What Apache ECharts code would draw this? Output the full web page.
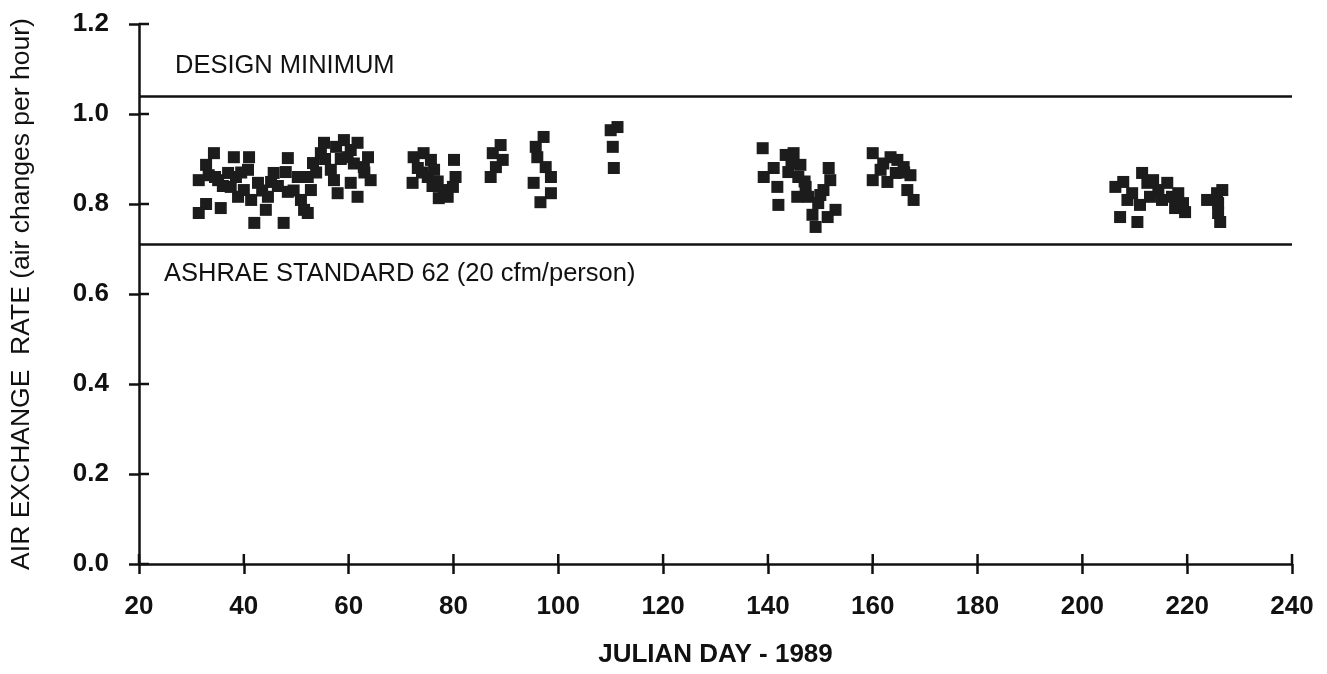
<!DOCTYPE html>
<html><head><meta charset="utf-8">
<script src="https://cdn.jsdelivr.net/npm/echarts@6/dist/echarts.min.js"></script>
<style>html,body{margin:0;padding:0;background:#fff}#c{width:1327px;height:674px}</style>
</head><body><div id="c"></div>
<script>
const xTicks = [20, 40, 60, 80, 100, 120, 140, 160, 180, 200, 220, 240];
const yTicks = [0.0, 0.2, 0.4, 0.6, 0.8, 1.0, 1.2];
const designMinimum = 1.045;
const ashraeStandard = 0.712;
const days = [
  31.4,32.8,31.4,32.8,34.3,33.3,35.1,35.6,37,38.1,37.5,38.9,41,40.8,40,41.4,42,42.7,44.2,44.6,45.7,45.2,47.6,48.4,48,48.4,50.3,51.5,50.9,52.2,52.8,52.2,53.2,54.7,55.3,56.6,57.2,57.9,57.6,59.1,59.8,60.4,61.7,60.4,61.7,62.9,63.7,64.2,
  34.5,36,39.5,43.5,46.5,49.5,55.5,58.5,61,63,38.5,53.8,
  72.4,72.2,73.2,74.3,75.7,75.1,76.3,77.2,78.2,80.1,80.4,79.9,78.9,74,77,76,
  87.5,89,89.4,87.1,88.1,
  97.2,95.7,96,97.6,98.6,95.3,98.6,96.6,
  110,111.3,110.4,110.6,
  139,139.2,141.1,141.8,142,143.4,144.9,143.9,146.2,145.8,147.2,147.7,145.6,148.5,149.1,149.6,150.6,151.6,151.9,152.9,151.4,144.5,147,150,
  160,160,161.5,163.4,164.7,162.8,165.9,167.2,166.6,167.8,164.4,162,166,
  206.3,207.2,207.8,208.6,209.5,210.5,211,211.4,212.4,212.9,213.5,214.5,215.2,216.2,217.1,217.7,218.3,219.2,219.6,
  223.8,225.7,225.9,225.9,226.3,226.7
];
const rates = [
  0.78,0.80,0.853,0.887,0.913,0.864,0.853,0.791,0.869,0.904,0.838,0.816,0.904,0.876,0.831,0.809,0.758,0.847,0.787,0.816,0.869,0.849,0.758,0.902,0.871,0.827,0.860,0.787,0.809,0.78,0.831,0.860,0.891,0.913,0.936,0.876,0.853,0.824,0.927,0.942,0.904,0.92,0.936,0.847,0.816,0.882,0.904,0.853,
  0.86,0.84,0.87,0.83,0.84,0.83,0.90,0.90,0.89,0.87,0.86,0.87,
  0.904,0.847,0.88,0.913,0.898,0.86,0.876,0.813,0.831,0.898,0.86,0.838,0.816,0.87,0.85,0.84,
  0.913,0.931,0.898,0.86,0.882,
  0.949,0.927,0.904,0.882,0.86,0.847,0.824,0.804,
  0.964,0.971,0.927,0.88,
  0.924,0.86,0.88,0.838,0.798,0.909,0.913,0.871,0.887,0.86,0.838,0.816,0.816,0.776,0.749,0.802,0.831,0.88,0.853,0.787,0.771,0.89,0.85,0.82,
  0.913,0.853,0.876,0.904,0.898,0.849,0.882,0.864,0.831,0.809,0.869,0.89,0.87,
  0.838,0.771,0.849,0.809,0.824,0.76,0.798,0.869,0.847,0.816,0.853,0.831,0.809,0.847,0.816,0.791,0.824,0.802,0.782,
  0.809,0.824,0.802,0.78,0.76,0.831
];
const xName = 'JULIAN DAY - 1989';
const yName = 'AIR EXCHANGE  RATE (air changes per hour)';
const designLabel = 'DESIGN MINIMUM';
const ashraeLabel = 'ASHRAE STANDARD 62 (20 cfm/person)';

const FONT = '"Liberation Sans", Arial, Helvetica, sans-serif';
const points = days.map((d, i) => [d, rates[i]]);
const xMin = xTicks[0], xMax = xTicks[xTicks.length - 1];
const yMin = yTicks[0], yMax = yTicks[yTicks.length - 1];
const chart = echarts.init(document.getElementById('c'), null, {renderer: 'canvas'});
const axisLineStyle = {color: '#111', width: 2.5};
const TICK_IN = 10;

// inward half of each crossing tick, placed through the axis scales
function innerTick(horizontal) {
  return function (params, api) {
    const p = api.coord([api.value(0), api.value(1)]);
    const shape = horizontal
      ? {x1: p[0], y1: p[1], x2: p[0] + TICK_IN, y2: p[1]}
      : {x1: p[0], y1: p[1], x2: p[0], y2: p[1] - TICK_IN};
    return {type: 'line', shape: shape, style: {stroke: '#111', lineWidth: 2.5}};
  };
}

chart.setOption({
  animation: false,
  backgroundColor: '#fff',
  grid: {left: 139, right: 35, top: 24, bottom: 110},
  xAxis: {
    type: 'value', min: xMin, max: xMax, interval: 20, splitLine: {show: false},
    axisLine: {show: true, onZero: false, lineStyle: axisLineStyle},
    axisTick: {show: true, inside: false, length: 10, lineStyle: axisLineStyle},
    axisLabel: {show: true, margin: 30, color: '#111', fontFamily: FONT, fontWeight: 'bold', fontSize: 26},
    name: xName, nameLocation: 'middle', nameGap: 78,
    nameTextStyle: {color: '#111', fontFamily: FONT, fontWeight: 'bold', fontSize: 26}
  },
  yAxis: {
    type: 'value', min: yMin, max: yMax, interval: 0.2, splitLine: {show: false},
    axisLine: {show: true, onZero: false, lineStyle: axisLineStyle},
    axisTick: {show: true, inside: false, length: 10, lineStyle: axisLineStyle},
    axisLabel: {show: true, margin: 30, color: '#111', fontFamily: FONT, fontWeight: 'bold', fontSize: 26,
      formatter: v => v.toFixed(1)},
    name: yName, nameLocation: 'middle', nameGap: 104, nameRotate: 90,
    nameTextStyle: {color: '#111', fontFamily: FONT, fontSize: 26.5}
  },
  series: [
    {
      type: 'scatter',
      data: points,
      symbol: 'rect',
      symbolSize: 12,
      itemStyle: {color: '#1c1c1c', opacity: 1},
      markLine: {
        silent: true,
        symbol: ['none', 'none'],
        lineStyle: {color: '#111', width: 2.5, type: 'solid'},
        data: [
          {yAxis: designMinimum, label: {show: true, formatter: designLabel, position: 'insideStartTop', distance: [36, 17],
            color: '#111', fontFamily: FONT, fontSize: 25.5}},
          {yAxis: ashraeStandard, label: {show: true, formatter: ashraeLabel, position: 'insideStartBottom', distance: [25, 16],
            color: '#111', fontFamily: FONT, fontSize: 25.5}}
        ]
      }
    },
    {
      type: 'custom', silent: true, clip: false,
      data: xTicks.map(v => [v, yMin]),
      renderItem: innerTick(false)
    },
    {
      type: 'custom', silent: true, clip: false,
      data: yTicks.map(v => [xMin, v]),
      renderItem: innerTick(true)
    }
  ]
});
</script></body></html>
